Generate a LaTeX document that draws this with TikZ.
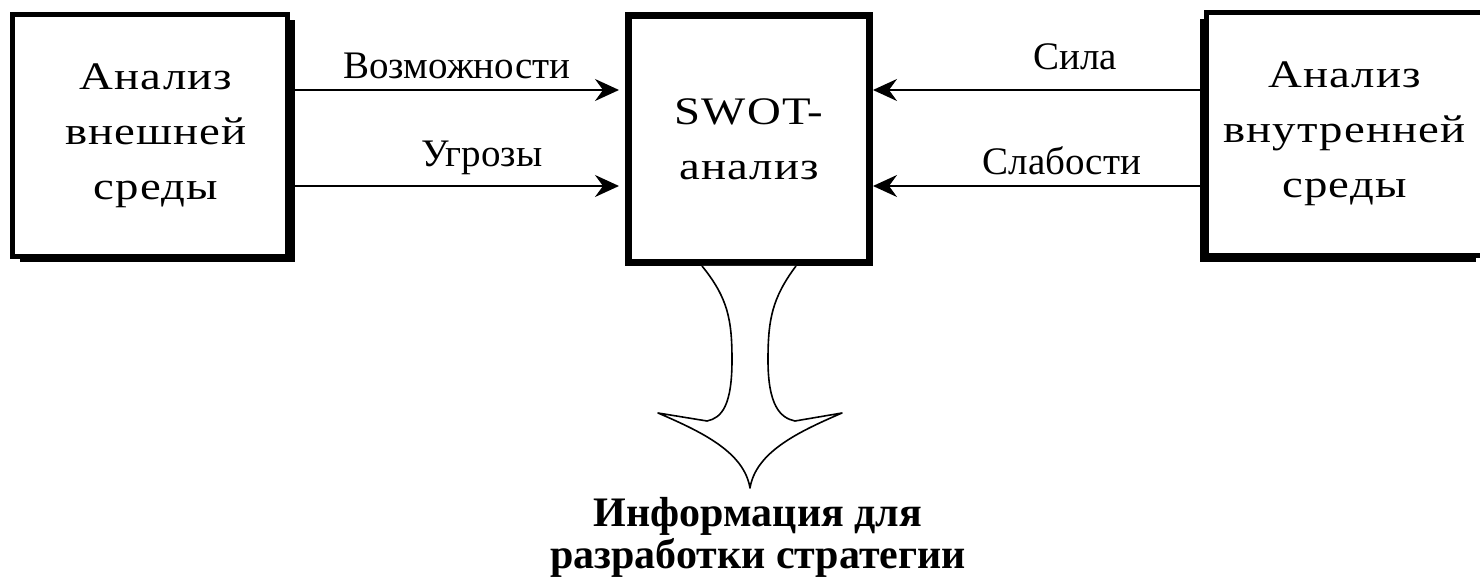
\documentclass[tikz,border=0pt]{standalone}
\usepackage{fontspec}
\setmainfont{Liberation Serif}
\newfontfamily\boxfont{Liberation Serif}[FakeStretch=1.2, LetterSpace=3]
\usetikzlibrary{arrows.meta,shadows}
\begin{document}
\begin{tikzpicture}[x=0.5pt,y=-0.5pt,
  every node/.style={font=\fontsize{19.5}{27}\selectfont, inner sep=0pt},
  box/.style={draw, fill=white, line width=2.5pt, align=center,
              font=\boxfont\fontsize{19.5}{27.5}\selectfont},
  arr/.style={line width=1pt, -{Stealth[length=12pt,width=11pt,inset=4pt]}},
  lbl/.style={anchor=base},
  bigarrow/.style={draw, fill=white, line width=0.8pt, line join=round},
  ]
\useasboundingbox (0,0) rectangle (1480,577);
% boxes
\node[box, minimum width=137.5pt, minimum height=121pt,
      general shadow={fill=black, shadow xshift=3.5pt, shadow yshift=-3pt}]
  (L) at (150,135.5) {\hspace*{6pt}Анализ\\\hspace*{6pt}внешней\\\hspace*{6pt}среды};
\node[box, line width=3.5pt, minimum width=120.5pt, minimum height=123.5pt]
  (M) at (749,139) {SWOT-\\анализ};
\node[box, minimum width=138pt, minimum height=121.5pt,
      general shadow={fill=black, shadow xshift=-3.5pt, shadow yshift=-3.5pt}]
  (R) at (1344.5,134) {Анализ\\внутренней\\среды};
% levels
\coordinate (y1) at (0,90);
\coordinate (y2) at (0,186);
% connectors
\draw[arr, shorten >=3pt] (L.east |- y1) -- (M.west |- y1);
\draw[arr, shorten >=3pt] (L.east |- y2) -- (M.west |- y2);
\draw[arr] (R.west |- y1) -- (M.east |- y1);
\draw[arr] (R.west |- y2) -- (M.east |- y2);
% labels
\node[lbl] (t1) at (457,79) {Возможности};
\node[lbl] (t2) at (482,167) {Угрозы};
\node[lbl] (t3) at (1075,70) {Сила};
\node[lbl] (t4) at (1062,175) {Слабости};
% output arrow
\draw[bigarrow] (702,266) .. controls (728,298) and (732,320) .. (732,360)
  .. controls (732,405) and (722,418) .. (707,421)
  -- (658,413)
  .. controls (702,432) and (744,452) .. (750,488)
  .. controls (756,452) and (798,432) .. (842,413)
  -- (795,421)
  .. controls (780,418) and (768,405) .. (768,360)
  .. controls (768,320) and (772,298) .. (796,266);
% output text
\node[anchor=base, align=center, font=\bfseries\fontsize{21}{19.5}\selectfont] (out) at (758,568)
  {Информация для\\разработки стратегии};
\end{tikzpicture}
\end{document}
